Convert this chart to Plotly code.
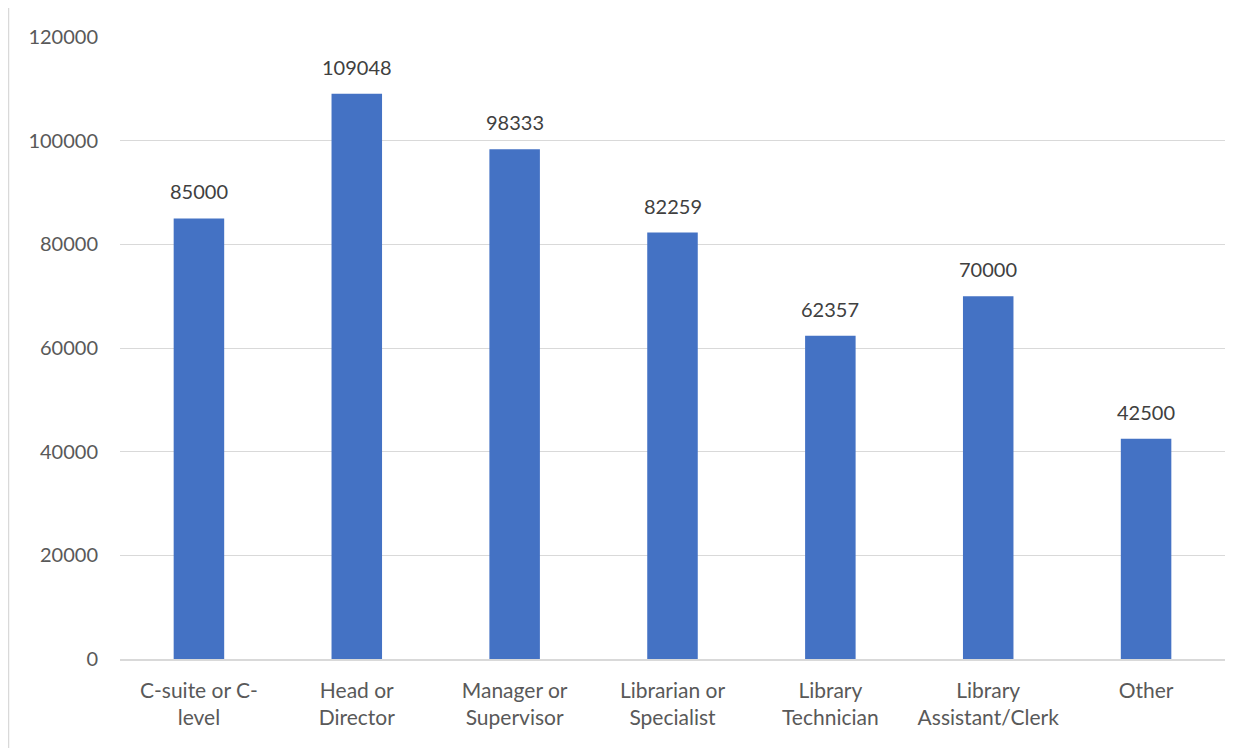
import plotly.graph_objects as go

categories = ["C-suite or C-<br>level", "Head or<br>Director", "Manager or<br>Supervisor",
              "Librarian or<br>Specialist", "Library<br>Technician",
              "Library<br>Assistant/Clerk", "Other"]
salaries = [85000, 109048, 98333, 82259, 62357, 70000, 42500]
y_ticks = [0, 20000, 40000, 60000, 80000, 100000, 120000]

# the page puts the figure 8px in from the top-left corner
W, H = 1245, 740
ml, mr, mt, mb = 112, 28, 29, 89
pw, ph = W - ml - mr, H - mt - mb

fig = go.Figure(go.Bar(
    x=categories, y=salaries,
    marker=dict(color="#4472C4", line=dict(width=0)),
    width=0.32,
))

# value labels sitting above each bar
for cat, val in zip(categories, salaries):
    fig.add_annotation(x=cat, y=val, text=str(val), showarrow=False,
                       yanchor="bottom", yshift=13,
                       font=dict(family="Lato", size=20, color="#404040"))

# light border along top and left of the chart area
fig.add_shape(type="line", xref="paper", yref="paper",
              x0=(1 - ml) / pw, x1=(W - ml) / pw,
              y0=(H - mt - 1) / ph, y1=(H - mt - 1) / ph,
              line=dict(color="#D9D9D9", width=2))
fig.add_shape(type="line", xref="paper", yref="paper",
              x0=(0.5 - ml) / pw, x1=(0.5 - ml) / pw,
              y0=-mb / ph, y1=(H - mt) / ph,
              line=dict(color="#D9D9D9", width=1.5))

fig.update_layout(
    width=W, height=H,
    margin=dict(l=ml, r=mr, t=mt, b=mb),
    plot_bgcolor="white", paper_bgcolor="white",
    font=dict(family="Lato, sans-serif", size=20, color="#595959"),
    showlegend=False,
)
fig.update_xaxes(showgrid=False, showline=True, linecolor="#D9D9D9", linewidth=1.5,
                 ticks="", ticklabelstandoff=12,
                 tickfont=dict(size=21, color="#595959"))
fig.update_yaxes(range=[0, 120000], tickvals=y_ticks, ticktext=[str(v) for v in y_ticks],
                 showgrid=True, gridcolor="#D9D9D9", gridwidth=1, zeroline=False,
                 showline=False, ticks="", ticklabelstandoff=21,
                 tickfont=dict(size=20, color="#595959"))

fig.write_html("out.html")
